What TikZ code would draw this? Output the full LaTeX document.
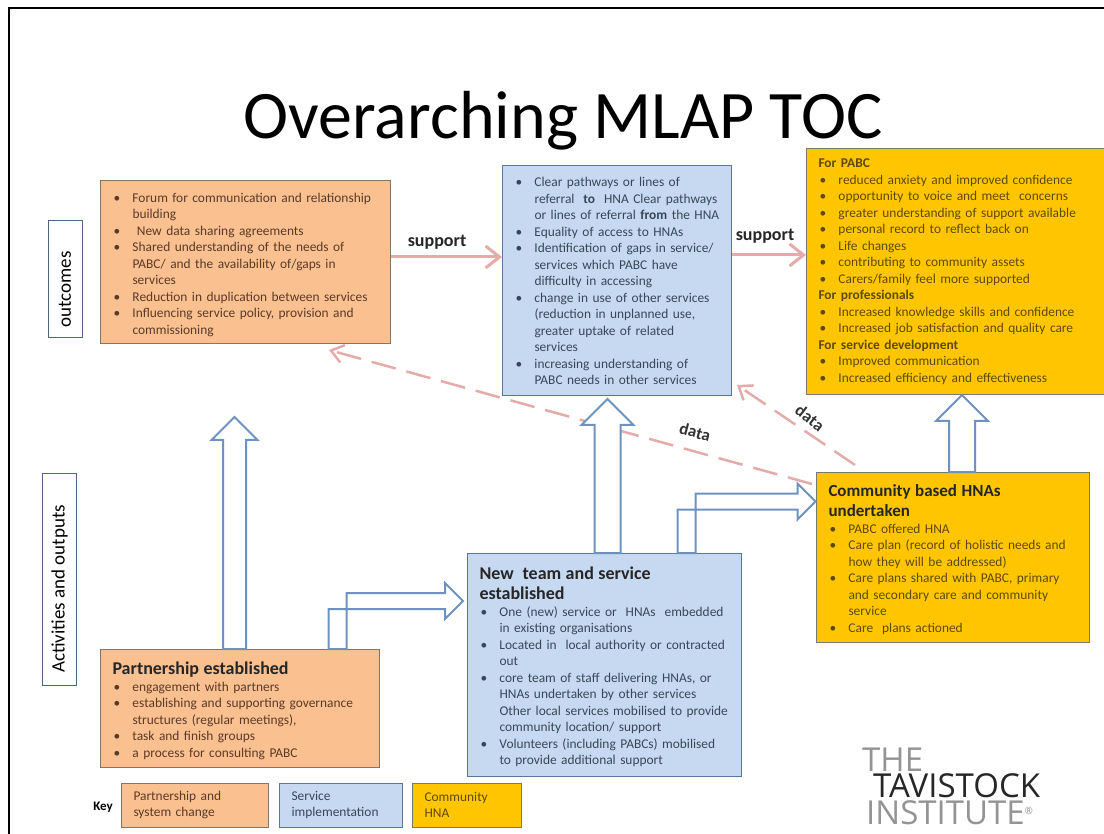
\documentclass[tikz,border=0pt]{standalone}
\usepackage{fontspec}
\setmainfont{Carlito}
\newfontfamily\logofont{Open Sans}
\usetikzlibrary{calc,arrows.meta}
\definecolor{partner}{HTML}{FAC090}
\definecolor{service}{HTML}{C6D9F1}
\definecolor{community}{HTML}{FFC600}
\definecolor{edgegrey}{HTML}{7D7868}
\definecolor{hollowblue}{HTML}{6E92C0}
\definecolor{pinkline}{HTML}{E5ABAB}
\definecolor{partnertext}{HTML}{5A3A28}
\definecolor{servicetext}{HTML}{3A4658}
\definecolor{communitytext}{HTML}{5E4A00}
\newcommand{\bul}{\par\noindent\hangindent=20pt\hangafter=1\makebox[20pt][l]{\hspace{1pt}•}}
\newcommand{\boxhead}[2][18]{{\bfseries\color{black!85}\fontsize{#1}{20.5}\selectfont #2\par}}
\newcommand{\hollowup}[3][23]{% tip, foot on a box
  \draw[hollow] let \p1=(#2), \p2=(#3) in
    (\x1,\y1) -- (\x1+#1pt,\y1-#1pt) -- (\x1+0.5*#1pt,\y1-#1pt) -- (\x1+0.5*#1pt,\y2)
    -- (\x1-0.5*#1pt,\y2) -- (\x1-0.5*#1pt,\y1-#1pt) -- (\x1-#1pt,\y1-#1pt) -- cycle;}
\newcommand{\hollowbend}[2]{% tip, foot on a box
  \draw[hollow] let \p1=(#1), \p2=(#2) in
    (\x1,\y1) -- (\x1-18pt,\y1+18pt) -- (\x1-18pt,\y1+8pt) -- (\x2+9pt,\y1+8pt) -- (\x2+9pt,\y2)
    -- (\x2-9pt,\y2) -- (\x2-9pt,\y1-8pt) -- (\x1-18pt,\y1-8pt) -- (\x1-18pt,\y1-18pt) -- cycle;}
\tikzset{
  box/.style={draw=edgegrey,line width=1pt,anchor=north west,inner xsep=12pt,inner ysep=0pt,align=left,
    font=\fontsize{13.4}{16.5}\selectfont},
  partnerbox/.style={box,fill=partner,text=partnertext},
  servicebox/.style={box,fill=service,draw=hollowblue!80!black,text=servicetext},
  communitybox/.style={box,fill=community,text=communitytext},
  sidebox/.style={draw=hollowblue!70!black,line width=1pt,rotate=90,font=\fontsize{19}{21}\selectfont,inner sep=0pt},
  hollow/.style={draw=hollowblue,line width=2pt,fill=white,line join=miter},
  supportline/.style={draw=pinkline,line width=3pt,-{Straight Barb[length=14pt,width=22pt,line width=3pt]}},
  dataline/.style={draw=pinkline,line width=2.5pt,dash pattern=on 25pt off 11pt,-{Straight Barb[length=12pt,width=18pt,line width=2.5pt]}},
  linklabel/.style={font=\bfseries\fontsize{18}{20}\selectfont,inner sep=0pt,text=black!85},
  datalabel/.style={font=\bfseries\fontsize{17}{19}\selectfont,inner sep=0pt,text=black!80},
  logotext/.style={font=\logofont\fontsize{33}{36}\selectfont,anchor=base west,inner sep=0pt},
}
\begin{document}
\begin{tikzpicture}[x=1pt,y=-1pt]
\useasboundingbox (0,0) rectangle (1104,834);
\draw[line width=2pt] (9,840) -- (9,8.5) -- (1110,8.5);
\node[font=\fontsize{68}{75}\selectfont,anchor=base,inner sep=0pt] (title) at (563,139) {Overarching MLAP TOC};

% outcomes row
\node[sidebox,minimum width=117pt,minimum height=34pt] (outcomes) at (65,279.5) {outcomes\hspace*{20pt}};
\node[partnerbox,minimum width=290pt,minimum height=163pt,text width=266pt] (forum) at (100,180) {%
  \bul Forum for communication and relationship\newline building
  \bul \ New data sharing agreements
  \bul Shared understanding of the needs of\newline PABC/ and the availability of/gaps in\newline services
  \bul Reduction in duplication between services
  \bul Influencing service policy, provision and\newline commissioning\par\vspace{2pt}};
\node[servicebox,minimum width=229pt,minimum height=230pt,text width=205pt] (pathways) at (502,165) {%
  \bul Clear pathways or lines of\newline referral \ \textbf{to} \ HNA Clear pathways\newline or lines of referral \textbf{from} the HNA
  \bul Equality of access to HNAs
  \bul Identification of gaps in service/\newline services which PABC have\newline difficulty in accessing
  \bul change in use of other services\newline (reduction in unplanned use,\newline greater uptake of related\newline services
  \bul increasing understanding of\newline PABC needs in other services\par\vspace{6pt}};
\node[communitybox,minimum width=304pt,minimum height=246pt,text width=280pt] (forpabc) at (806,148) {%
  \textbf{For PABC}
  \bul reduced anxiety and improved confidence
  \bul opportunity to voice and meet \ concerns
  \bul greater understanding of support available
  \bul personal record to reflect back on
  \bul Life changes
  \bul contributing to community assets
  \bul Carers/family feel more supported
  \par\noindent\textbf{For professionals}
  \bul Increased knowledge skills and confidence
  \bul Increased job satisfaction and quality care
  \par\noindent\textbf{For service development}
  \bul Improved communication
  \bul Increased efficiency and effectiveness\par};

% activities row
\node[sidebox,minimum width=212pt,minimum height=34pt] (activities) at (59.5,579) {Activities and outputs\hspace*{20pt}};
\node[partnerbox,minimum width=279pt,minimum height=118pt,text width=255pt] (pship) at (100,649) {%
  \boxhead{Partnership established}
  \bul engagement with partners
  \bul establishing and supporting governance\newline structures (regular meetings),
  \bul task and finish groups
  \bul a process for consulting PABC\par\vspace{-5pt}};
\node[servicebox,minimum width=274pt,minimum height=223pt,text width=250pt] (newteam) at (467,553) {%
  \boxhead{New \ team and service\newline established}
  \bul One (new) service or \ HNAs \ embedded\newline in existing organisations
  \bul Located in \ local authority or contracted\newline out
  \bul core team of staff delivering HNAs, or\newline HNAs undertaken by other services\newline Other local services mobilised to provide\newline community location/ support
  \bul Volunteers (including PABCs) mobilised\newline to provide additional support\par\vspace{-4pt}};
\node[communitybox,minimum width=273pt,minimum height=170pt,text width=249pt] (hnas) at (816,472) {%
  \boxhead[17]{Community based HNAs\newline undertaken}
  \bul PABC offered HNA
  \bul Care plan (record of holistic needs and\newline how they will be addressed)
  \bul Care plans shared with PABC, primary\newline and secondary care and community\newline service
  \bul Care \ plans actioned\par\vspace{-4pt}};

% key
\node[font=\bfseries\fontsize{13}{15}\selectfont,inner sep=0pt] (key) at (103,807) {Key};
\node[partnerbox,minimum width=147pt,minimum height=44pt,text width=123pt,anchor=west] (keypartner) at (121,805) {Partnership and\\system change};
\node[servicebox,minimum width=123pt,minimum height=44pt,text width=99pt,anchor=west] (keyservice) at (279,805) {Service\\implementation};
\node[communitybox,minimum width=109pt,minimum height=44pt,text width=85pt,anchor=west] (keycommunity) at (412,805) {Community\\HNA};

% logo
\node[logotext,text=black!42] (logothe) at (862,771) {THE};
\node[logotext,text=black!85] (logotav) at (873,797) {TAVISTOCK};
\node[logotext,text=black!42] (logoins) at (866,824) {INSTITUTE\raisebox{10pt}{\fontsize{10}{12}\selectfont ®}};

% support and data links
\draw[supportline] (forum.east |- 0,257) -- (pathways.west |- 0,257);
\draw[supportline] (pathways.east |- 0,255) -- (forpabc.west |- 0,255);
\node[linklabel] (support1) at (437,242) {support};
\node[linklabel] (support2) at (765,236) {support};
\coordinate (datafoot) at (812,484);
\coordinate (datafootb) at (855,465);
\coordinate (forumhit) at (329,350);
\coordinate (pathhit) at (737,385);
\draw[dataline] (datafoot) -- (forumhit);
\draw[dataline] (datafootb) -- (pathhit);
\node[datalabel,rotate=-15] (data1) at (695,432) {data};
\node[datalabel,rotate=-38] (data2) at (810,418) {data};

% hollow arrows
\coordinate (tipa) at (234.5,417);
\coordinate (tipb) at (607.5,399);
\coordinate (tipc) at (962,395);
\hollowup{tipa}{pship.north}
\hollowup[26]{tipb}{newteam.north}
\hollowup[26]{tipc}{hnas.north}
\coordinate (foota) at (337.5,649);
\coordinate (footb) at (686.5,553);
\coordinate (tipd) at (463,601);
\coordinate (tipe) at (815.5,501.5);
\hollowbend{tipd}{foota}
\hollowbend{tipe}{footb}
\end{tikzpicture}
\end{document}
